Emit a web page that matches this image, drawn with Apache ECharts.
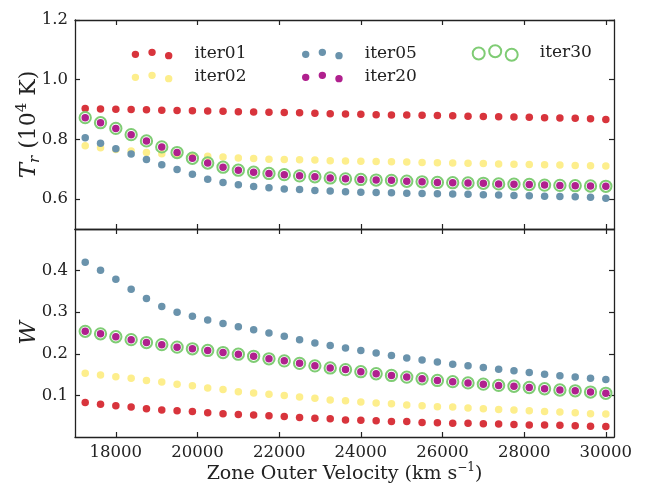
<!DOCTYPE html>
<html>
<head>
<meta charset="utf-8">
<script src="https://cdn.jsdelivr.net/npm/echarts@6/dist/echarts.min.js"></script>
<style>
  html, body { margin: 0; padding: 0; background: #fff; }
  #chart { width: 645px; height: 488px; }
</style>
</head>
<body>
<div id="chart"></div>
<script>
// zone outer velocity (km/s)
var velocity = [17250, 17625, 18000, 18375, 18750, 19125, 19500, 19875, 20250, 20625,
  21000, 21375, 21750, 22125, 22500, 22875, 23250, 23625, 24000, 24375,
  24750, 25125, 25500, 25875, 26250, 26625, 27000, 27375, 27750, 28125,
  28500, 28875, 29250, 29625, 30000];

var xTicks = [18000, 20000, 22000, 24000, 26000, 28000, 30000];
var trTicks = [0.6, 0.8, 1.0, 1.2];
var wTicks = [0.1, 0.2, 0.3, 0.4];

// T_r in 10^4 K
var trIter01 = [0.904, 0.902, 0.901, 0.900, 0.899, 0.898, 0.897, 0.896, 0.895, 0.894,
  0.893, 0.892, 0.891, 0.890, 0.889, 0.888, 0.886, 0.885, 0.884, 0.883,
  0.882, 0.882, 0.881, 0.880, 0.879, 0.878, 0.877, 0.876, 0.875, 0.874,
  0.873, 0.872, 0.871, 0.869, 0.867];
var trIter02 = [0.779, 0.772, 0.766, 0.761, 0.756, 0.752, 0.749, 0.746, 0.744, 0.741,
  0.738, 0.736, 0.734, 0.733, 0.732, 0.731, 0.729, 0.728, 0.727, 0.726,
  0.725, 0.724, 0.723, 0.722, 0.721, 0.720, 0.719, 0.718, 0.717, 0.716,
  0.715, 0.714, 0.713, 0.712, 0.711];
var trIter05 = [0.806, 0.787, 0.769, 0.751, 0.733, 0.715, 0.699, 0.683, 0.667, 0.656,
  0.648, 0.642, 0.638, 0.634, 0.632, 0.629, 0.627, 0.625, 0.623, 0.622,
  0.621, 0.620, 0.619, 0.618, 0.617, 0.616, 0.615, 0.614, 0.612, 0.611,
  0.610, 0.609, 0.608, 0.606, 0.603];
var trIter20 = [0.873, 0.856, 0.837, 0.816, 0.795, 0.775, 0.756, 0.737, 0.721, 0.707,
  0.697, 0.690, 0.686, 0.682, 0.678, 0.675, 0.671, 0.668, 0.666, 0.664,
  0.663, 0.660, 0.658, 0.656, 0.655, 0.654, 0.653, 0.651, 0.650, 0.649,
  0.647, 0.646, 0.645, 0.644, 0.643];
var trIter30 = [0.873, 0.856, 0.837, 0.816, 0.795, 0.775, 0.756, 0.737, 0.721, 0.707,
  0.697, 0.690, 0.686, 0.682, 0.678, 0.675, 0.671, 0.668, 0.666, 0.664,
  0.663, 0.660, 0.658, 0.656, 0.655, 0.654, 0.653, 0.651, 0.650, 0.649,
  0.647, 0.646, 0.645, 0.644, 0.643];

// dilution factor W
var wIter01 = [0.083, 0.079, 0.075, 0.072, 0.068, 0.065, 0.063, 0.061, 0.058, 0.056,
  0.054, 0.053, 0.051, 0.049, 0.047, 0.045, 0.044, 0.041, 0.040, 0.039,
  0.037, 0.037, 0.035, 0.034, 0.033, 0.033, 0.032, 0.031, 0.030, 0.029,
  0.029, 0.028, 0.027, 0.026, 0.025];
var wIter02 = [0.153, 0.149, 0.145, 0.141, 0.136, 0.132, 0.127, 0.123, 0.118, 0.114,
  0.109, 0.106, 0.103, 0.100, 0.096, 0.093, 0.089, 0.087, 0.084, 0.082,
  0.080, 0.077, 0.075, 0.073, 0.072, 0.070, 0.068, 0.066, 0.065, 0.063,
  0.061, 0.060, 0.058, 0.056, 0.055];
var wIter05 = [0.420, 0.401, 0.379, 0.355, 0.333, 0.314, 0.300, 0.290, 0.281, 0.273,
  0.265, 0.258, 0.250, 0.242, 0.234, 0.226, 0.220, 0.214, 0.208, 0.202,
  0.196, 0.190, 0.185, 0.180, 0.175, 0.171, 0.167, 0.163, 0.159, 0.155,
  0.151, 0.147, 0.144, 0.141, 0.138];
var wIter20 = [0.254, 0.248, 0.241, 0.234, 0.227, 0.222, 0.216, 0.212, 0.208, 0.203,
  0.199, 0.194, 0.188, 0.183, 0.177, 0.171, 0.166, 0.162, 0.157, 0.152,
  0.148, 0.144, 0.140, 0.136, 0.133, 0.130, 0.127, 0.124, 0.122, 0.119,
  0.116, 0.113, 0.111, 0.108, 0.105];
var wIter30 = [0.254, 0.248, 0.241, 0.234, 0.227, 0.222, 0.216, 0.212, 0.208, 0.203,
  0.199, 0.194, 0.188, 0.183, 0.177, 0.171, 0.166, 0.162, 0.157, 0.152,
  0.148, 0.144, 0.140, 0.136, 0.133, 0.130, 0.127, 0.124, 0.122, 0.119,
  0.116, 0.113, 0.111, 0.108, 0.105];

var colors = {
  iter01: "#d8343c",
  iter02: "#fdee8c",
  iter05: "#6a93ac",
  iter20: "#b0208e",
  iter30: "#7fcc74"
};

var FONT = "DejaVu Serif";
var INK = "#222";

// three dots / rings with matplotlib-like scatter offsets for legend
function dotsIcon(r, dx, ys) {
  var p = "path://";
  for (var i = 0; i < 3; i++) {
    var cx = i * dx, cy = ys[i];
    p += "M" + (cx - r) + " " + cy + "A" + r + " " + r + " 0 1 0 " + (cx + r) + " " + cy +
      "A" + r + " " + r + " 0 1 0 " + (cx - r) + " " + cy + "Z";
  }
  return p;
}
var dotIcon = dotsIcon(3.7, 16.6, [2, 0, 3.3]);
var ringIcon = dotsIcon(6, 16.5, [2.3, 0, 3.6]);

function pairs(ys) {
  return velocity.map(function (v, i) { return [v, ys[i]]; });
}

function xAxisFor(grid, pos, labels) {
  return {
    type: "value", gridIndex: grid, position: pos,
    min: 17000, max: 30200,
    splitLine: { show: false },
    axisLine: { show: true, onZero: false, lineStyle: { color: INK, width: 1.3 } },
    axisTick: { show: true, inside: true, length: 5, customValues: xTicks, lineStyle: { color: INK, width: 1.2 } },
    axisLabel: {
      show: labels, customValues: xTicks, margin: 7, color: INK, fontFamily: FONT, fontSize: 16.5,
      formatter: function (v) { return String(v); }
    }
  };
}
function yAxisFor(grid, pos, lo, hi, ticks, labels) {
  return {
    type: "value", gridIndex: grid, position: pos,
    min: lo, max: hi,
    splitLine: { show: false },
    axisLine: { show: true, onZero: false, lineStyle: { color: INK, width: 1.3 } },
    axisTick: { show: true, inside: true, length: 5, customValues: ticks, lineStyle: { color: INK, width: 1.2 } },
    axisLabel: {
      show: labels, customValues: ticks, margin: 7, color: INK, fontFamily: FONT, fontSize: 16.5,
      formatter: function (v) { return v.toFixed(1); }
    }
  };
}

var xAxes = [xAxisFor(0, "bottom", false), xAxisFor(0, "top", false),
  xAxisFor(1, "bottom", true), xAxisFor(1, "top", false)];
xAxes[2].name = "Zone Outer Velocity (km s{p|\u22121})";
xAxes[2].nameLocation = "middle";
xAxes[2].nameGap = 24;
xAxes[2].nameTextStyle = {
  fontFamily: FONT, fontSize: 19, color: INK, lineHeight: 24,
  rich: { p: { fontFamily: FONT, fontSize: 12, lineHeight: 12, verticalAlign: "top", color: INK } }
};

var yAxes = [yAxisFor(0, "left", 0.5, 1.2, trTicks, true), yAxisFor(0, "right", 0.5, 1.2, trTicks, false),
  yAxisFor(1, "left", 0, 0.5, wTicks, true), yAxisFor(1, "right", 0, 0.5, wTicks, false)];
var nameRich = {
  i: { fontFamily: FONT, fontStyle: "italic", fontSize: 23, lineHeight: 28, color: INK },
  s: { fontFamily: FONT, fontStyle: "italic", fontSize: 15, lineHeight: 14, verticalAlign: "bottom", color: INK },
  p: { fontFamily: FONT, fontSize: 15, lineHeight: 14, verticalAlign: "top", color: INK }
};
yAxes[0].name = "{i|T}{s|r} (10{p|4} K)";
yAxes[0].nameLocation = "middle";
yAxes[0].nameGap = 32;
yAxes[0].nameMoveOverlap = false;
yAxes[0].nameTextStyle = { fontFamily: FONT, fontSize: 22, lineHeight: 28, color: INK, rich: nameRich };
yAxes[2].name = "{i|W}";
yAxes[2].nameLocation = "middle";
yAxes[2].nameGap = 32;
yAxes[2].nameMoveOverlap = false;
yAxes[2].nameTextStyle = { fontFamily: FONT, fontSize: 22, lineHeight: 28, color: INK, rich: nameRich };

function dotSeries(name, xi, yi, data) {
  return {
    type: "scatter", name: name, xAxisIndex: xi, yAxisIndex: yi,
    data: pairs(data), symbolSize: 7.5,
    itemStyle: { color: colors[name], opacity: 1 },
    emphasis: { disabled: true }
  };
}
function ringSeries(name, xi, yi, data) {
  return {
    type: "scatter", name: name, xAxisIndex: xi, yAxisIndex: yi,
    data: pairs(data), symbolSize: 11.3,
    itemStyle: { color: "rgba(0,0,0,0)", borderColor: colors[name], borderWidth: 2, opacity: 1 },
    emphasis: { disabled: true }
  };
}

var legendText = { fontFamily: FONT, fontSize: 17, color: INK, lineHeight: 19, padding: [7, 0, 0, 17] };
function dotLegend(left, names) {
  return {
    left: left, top: 41, orient: "vertical", itemGap: -3, padding: 0,
    itemWidth: 40.7, itemHeight: 11, selectedMode: false,
    textStyle: legendText,
    data: names.map(function (n) { return { name: n, icon: dotIcon }; })
  };
}

var myChart = echarts.init(document.getElementById("chart"), null, { renderer: "canvas" });
myChart.setOption({
  animation: false,
  backgroundColor: "#fff",
  textStyle: { fontFamily: FONT, color: INK },
  grid: [
    { left: 75, right: 31, top: 20, height: 209, outerBoundsMode: "none" },
    { left: 75, right: 31, top: 229, height: 208, outerBoundsMode: "none" }
  ],
  xAxis: xAxes,
  yAxis: yAxes,
  legend: [
    dotLegend(131.7, ["iter01", "iter02"]),
    dotLegend(302, ["iter05", "iter20"]),
    {
      left: 471.7, top: 40, orient: "vertical", padding: 0,
      itemWidth: 45, itemHeight: 15.6, selectedMode: false,
      textStyle: legendText,
      data: [{
        name: "iter30", icon: ringIcon,
        itemStyle: { color: "rgba(0,0,0,0)", borderColor: colors.iter30, borderWidth: 2 }
      }]
    }
  ],
  series: [
    dotSeries("iter01", 0, 0, trIter01),
    dotSeries("iter02", 0, 0, trIter02),
    dotSeries("iter05", 0, 0, trIter05),
    dotSeries("iter20", 0, 0, trIter20),
    ringSeries("iter30", 0, 0, trIter30),
    dotSeries("iter01", 2, 2, wIter01),
    dotSeries("iter02", 2, 2, wIter02),
    dotSeries("iter05", 2, 2, wIter05),
    dotSeries("iter20", 2, 2, wIter20),
    ringSeries("iter30", 2, 2, wIter30)
  ]
});
</script>
</body>
</html>
